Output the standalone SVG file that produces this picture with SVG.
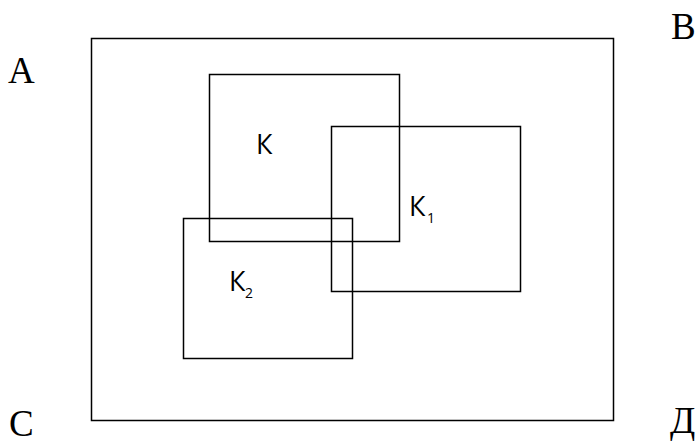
<svg xmlns="http://www.w3.org/2000/svg" width="699" height="443" viewBox="0 0 699 443">
<style>
rect{fill:none;stroke:#000;stroke-width:1.5}
.c{font-family:"Liberation Serif",serif;font-size:37px;fill:#000}
.k{font-family:"Open Sans","Noto Sans",sans-serif;font-size:27px;fill:#000}
.s{font-size:14px}
</style>
<rect width="699" height="443" style="fill:#fff;stroke:none"/>
<g id="outer"><rect x="91.5" y="38.5" width="522" height="382"/></g>
<g id="labels">
<text class="c" x="8" y="83">А</text>
<text class="c" x="671" y="39">В</text>
<text class="c" x="9" y="436">С</text>
<text class="c" x="670" y="433">Д</text>
</g>
<g id="K"><rect x="209.5" y="74.5" width="190" height="167"/><text class="k" x="256" y="154">К</text></g>
<g id="K1"><rect x="331.5" y="126.5" width="189" height="165"/><text class="k" x="409" y="216">К<tspan class="s" x="427" y="223">1</tspan></text></g>
<g id="K2"><rect x="183.5" y="218.5" width="169" height="140"/><text class="k" x="229" y="291">К<tspan class="s" x="245" y="298">2</tspan></text></g>
</svg>
